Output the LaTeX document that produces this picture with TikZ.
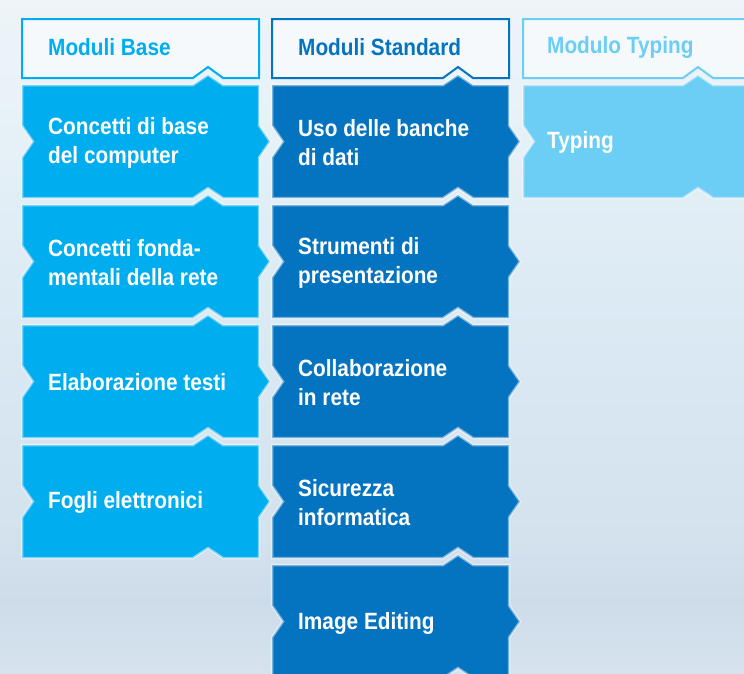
\documentclass[tikz,border=0pt]{standalone}
\usepackage{fontspec}
\newfontfamily\tilefont{Liberation Sans}[FakeStretch=0.885]
\definecolor{baseblue}{RGB}{0,174,239}
\definecolor{stdblue}{RGB}{4,116,192}
\definecolor{typblue}{RGB}{108,206,245}
\definecolor{bgtop}{RGB}{238,244,248}
\definecolor{bghigh}{RGB}{232,242,248}
\definecolor{bgmid}{RGB}{220,234,244}
\definecolor{bglow}{RGB}{212,226,238}
\definecolor{bgband}{RGB}{206,220,234}
\definecolor{bgbottom}{RGB}{214,227,238}
\pgfdeclareverticalshading{skyfade}{100bp}{color(0bp)=(bgbottom); color(25bp)=(bgbottom);
  color(30.4bp)=(bgband); color(34.9bp)=(bglow); color(52.7bp)=(bgmid);
  color(67.6bp)=(bghigh); color(75bp)=(bgtop); color(100bp)=(bgtop)}
% tile: x, y, width, height, tab offset, colour
\newcommand{\tile}[6]{%
  \path[fill=#6,draw=white,draw opacity=.45,line width=2.5pt]
    (#1,#2) -- ++({#5-15},0) -- ++(15,-10) -- ++(15,10) -- ({#1+#3},#2)
    -- ++(0,{#4/2-16}) -- ++(11,16) -- ++(-11,16) -- ({#1+#3},{#2+#4})
    -- ({#1+#5+15},{#2+#4}) -- ++(-15,-10) -- ++(-15,10) -- (#1,{#2+#4})
    -- ++(0,{-#4/2+16}) -- ++(11,-16) -- ++(-11,-16) -- cycle;}
% header box: x, y, width, tab offset, colour
\newcommand{\headbox}[5]{%
  \draw[#5,line width=2pt,fill=white,fill opacity=.5]
    (#1,#2) -- ({#1+#3},#2) -- ({#1+#3},{#2+59}) -- ({#1+#4+15},{#2+59})
    -- ++(-15,-11) -- ++(-15,11) -- (#1,{#2+59}) -- cycle;}

\begin{document}
\begin{tikzpicture}[x=1pt,y=-1pt,
  tiletext/.style={anchor=west,align=left,inner sep=0pt,text=white,
    font=\tilefont\bfseries\fontsize{23.5}{29}\selectfont},
  headtext/.style={anchor=west,inner sep=0pt,
    font=\tilefont\bfseries\fontsize{23.5}{29}\selectfont}]
  \useasboundingbox (0,0) rectangle (744,673);
  \clip (0,0) rectangle (744,673);
  \fill[shading=skyfade] (0,0) rectangle (744,673);

  % headers
  \headbox{22}{19}{237}{186}{baseblue}
  \headbox{272}{19}{237}{186}{stdblue}
  \headbox{523}{19}{260}{175}{typblue}
  \node[headtext,text=baseblue] (hbase) at (48,47) {Moduli Base};
  \node[headtext,text=stdblue] (hstd) at (298,47) {Moduli Standard};
  \node[headtext,text=typblue] (htyp) at (547,47) {Modulo Typing};

  % tiles
  \foreach \r in {0,...,3} \tile{22}{85+120*\r}{237}{113}{186}{baseblue};
  \foreach \r in {0,...,4} \tile{272}{85+120*\r}{237}{113}{186}{stdblue};
  \tile{523}{85}{260}{113}{175}{typblue}

  \node[tiletext] (b1) at (48,143) {Concetti di base\\del computer};
  \node[tiletext] (b2) at (48,263) {Concetti fonda-\\mentali della rete};
  \node[tiletext] (b3) at (48,382) {Elaborazione testi};
  \node[tiletext] (b4) at (48,502) {Fogli elettronici};

  \node[tiletext] (s1) at (298,143) {Uso delle banche\\di dati};
  \node[tiletext] (s2) at (298,263) {Strumenti di\\presentazione};
  \node[tiletext] (s3) at (298,383) {Collaborazione\\in rete};
  \node[tiletext] (s4) at (298,503) {Sicurezza\\informatica};
  \node[tiletext] (s5) at (298,623) {Image Editing};

  \node[tiletext] (t1) at (547,142) {Typing};
\end{tikzpicture}
\end{document}
